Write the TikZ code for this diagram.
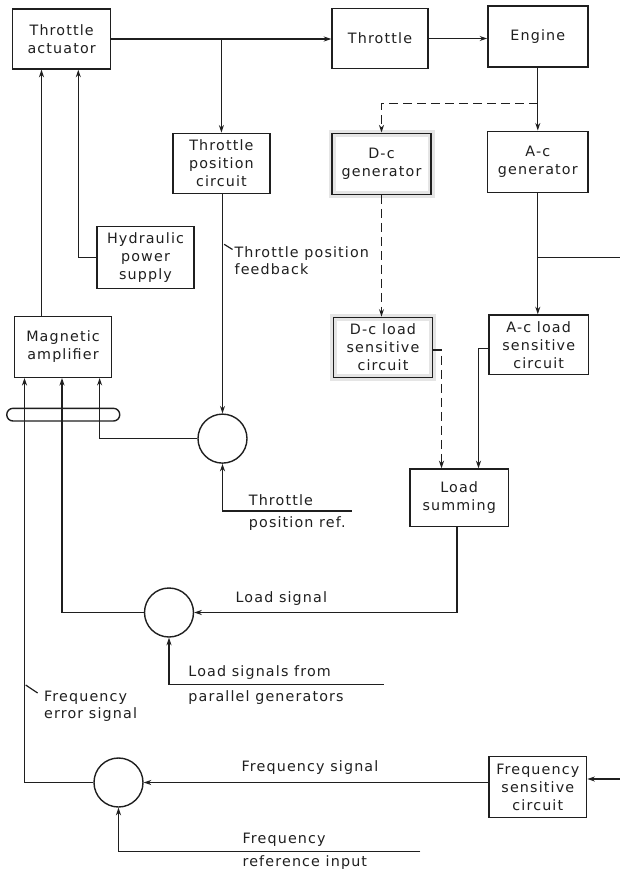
\documentclass[tikz,border=0pt]{standalone}
\usepackage{fontspec}
\setmainfont[LetterSpace=8]{DejaVu Sans}
\usetikzlibrary{arrows.meta}
\newcommand{\dgfont}{\fontsize{14.3}{18}\selectfont}
\begin{document}
\begin{tikzpicture}[x=1pt,y=-1pt,
  line width=1.2pt, color=black!88,
  box/.style={draw, line width=1.4pt, align=center, inner sep=2pt, font=\dgfont,
    minimum width=98pt, minimum height=60pt},
  dcbox/.style={box, preaction={draw=black!10, line width=7pt}},
  sumnode/.style={draw, line width=1.4pt, circle, minimum size=49pt, inner sep=0pt},
  lbl/.style={font=\dgfont, align=left, inner sep=0pt, anchor=west},
  arr/.style={-{Stealth[length=7.5pt,width=5pt]}},
  dsh/.style={dash pattern=on 9pt off 5pt, line width=1.4pt}]
\useasboundingbox[fill=white] (0,0) rectangle (620,871);

% blocks
\node[box] (ta) at (61.7,39) {Throttle\\actuator};
\node[box, minimum width=96pt] (th) at (380,38.5) {Throttle};
\node[box, minimum width=100pt, minimum height=61pt] (en) at (537.8,36.5) {Engine};
\node[box, minimum width=97pt] (tpc) at (221.4,163.3) {Throttle\\position\\circuit};
\node[dcbox, minimum width=99pt, minimum height=61pt] (dcg) at (381.5,163.7) {D-c\\generator};
\node[box, minimum width=100.5pt, minimum height=61pt] (acg) at (537.8,161.7) {A-c\\generator};
\node[box, minimum width=97pt, minimum height=61.6pt] (hyd) at (145.5,257.5) {Hydraulic\\power\\supply};
\node[box, minimum width=97pt, minimum height=60.6pt] (mag) at (63,347) {Magnetic\\amplifier};
\node[dcbox, minimum width=99.3pt] (dcl) at (383,347.3) {D-c load\\sensitive\\circuit};
\node[box, minimum width=99.4pt, minimum height=59.7pt] (acl) at (538.7,344.8) {A-c load\\sensitive\\circuit};
\node[box, minimum width=98.3pt, minimum height=57.7pt] (ls) at (459.2,497.8) {Load\\summing};
\node[box, minimum width=97.7pt, minimum height=60.6pt] (fsc) at (537.8,787) {Frequency\\sensitive\\circuit};

% summing points
\node[sumnode] (c1) at (222.5,438.6) {};
\node[sumnode] (c2) at (169,612.5) {};
\node[sumnode] (c3) at (118.5,782.5) {};

% ring around the amplifier inputs
\node[draw, line width=1.4pt, rounded corners=6.3pt, minimum width=113pt, minimum height=12.7pt, inner sep=0pt] (ring) at (63.25,414.65) {};

% helper coordinates
\coordinate (dj) at (537.8,103.3);
\coordinate (redge) at (620,257.7);
\coordinate (fin) at (620,779);
\coordinate (acbend) at (478.5,348.3);
\coordinate (dcbend) at (441.5,350);
\coordinate (lsx) at (457,611);
\coordinate (tref) at (351.7,511);
\coordinate (lref) at (383.5,684.3);
\coordinate (fref) at (420.3,851.7);
\coordinate (fx) at (24.5,781);
\coordinate (lx) at (62,612);
\coordinate (tx) at (99.6,438);
\coordinate (ax) at (41.5,300);
\coordinate (hx) at (78.3,257.3);

% forward path
\draw[arr] (ta.east) -- (ta.east -| th.west);
\draw[arr] (tpc.north |- ta.east) -- (tpc.north);
\draw[arr] (th.east) -- (th.east -| en.west);
\draw[arr] (en.south) -- (acg.north);
\draw[arr, dsh] (dj) -| (dcg.north);
\draw[arr, dsh] (dcg.south) -- (dcg.south |- dcl.north);
\draw[arr] (acg.south) -- (acg.south |- acl.north);
\draw (acg.south |- redge) -- (redge);
\draw[arr] (acl.west |- acbend) -- (acbend) -- (acbend |- ls.north);
\draw[arr, dsh] (dcl.east |- dcbend) -- (dcbend) -- (dcbend |- ls.north);
\draw[arr] (ls.south -| lsx) -- (lsx |- c2.east) -- (c2.east);
\draw[arr] (fin) -- (fin -| fsc.east);
\draw[arr] (c3.east -| fsc.west) -- (c3.east);

% references
\draw[arr] (fref) -- (fref -| c3.south) -- (c3.south);
\draw[arr] (tref) -- (tref -| c1.south) -- (c1.south);
\draw[arr] (lref) -- (lref -| c2.south) -- (c2.south);
\draw[arr] (tpc.south -| c1.north) -- (c1.north);

% into magnetic amplifier
\draw[arr] (c3.west) -- (c3.west -| fx) -- (fx |- mag.south);
\draw[arr] (c2.west) -- (c2.west -| lx) -- (lx |- mag.south);
\draw[arr] (c1.west) -- (c1.west -| tx) -- (tx |- mag.south);

% into throttle actuator
\draw[arr] (mag.north -| ax) -- (ax |- ta.south);
\draw[arr] (hyd.west) -- (hyd.west -| hx) -- (hx |- ta.south);

% labels
\node[lbl] (lfb) at (234,260.5) {Throttle position\\[-0.4pt]feedback};
\draw (224.2,244.3) -- (232.5,249.5);
\node[lbl] (ltr1) at (248.3,500) {Throttle};
\node[lbl] (ltr2) at (248.3,524) {position ref.};
\node[lbl] (lls) at (235,599) {Load signal};
\node[lbl] (lpg1) at (187.8,672.7) {Load signals from};
\node[lbl] (lpg2) at (187.8,697.3) {parallel generators};
\node[lbl] (lfe) at (43.5,706.5) {Frequency\\[-1.3pt]error signal};
\draw (25.7,685) -- (37.6,693);
\node[lbl] (lfs) at (241,767.7) {Frequency signal};
\node[lbl] (lfr1) at (242,839.3) {Frequency};
\node[lbl] (lfr2) at (242,862.7) {reference input};
\end{tikzpicture}
\end{document}
